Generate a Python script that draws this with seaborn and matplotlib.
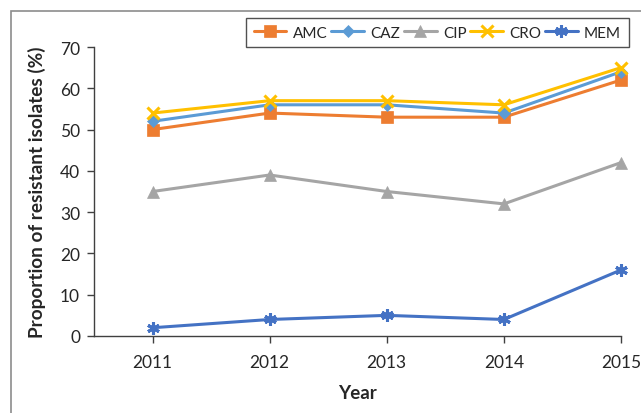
import matplotlib
matplotlib.use("Agg")
import matplotlib.pyplot as plt
import matplotlib.patches as mpatches
import seaborn as sns
import pandas as pd

# -------------------------
# Data
# -------------------------
years = [2011, 2012, 2013, 2014, 2015]
amc = [50, 54, 53, 53, 62]
caz = [52, 56, 56, 54, 64]
cip = [35, 39, 35, 32, 42]
cro = [54, 57, 57, 56, 65]
mem = [2, 4, 5, 4, 16]
drugs = ["AMC", "CAZ", "CIP", "CRO", "MEM"]
y_ticks = [0, 10, 20, 30, 40, 50, 60, 70]

colors = {"AMC": "#ED7D31", "CAZ": "#5B9BD5", "CIP": "#A5A5A5",
          "CRO": "#FFC000", "MEM": "#4472C4"}
markers = {"AMC": "s", "CAZ": "D", "CIP": "^", "CRO": "x", "MEM": (6, 2, 0)}
msizes = {"AMC": 8, "CAZ": 6, "CIP": 8, "CRO": 9, "MEM": 9}

df = pd.DataFrame({"year": years * 5,
                   "drug": [d for d in drugs for _ in years],
                   "value": amc + caz + cip + cro + mem})

# -------------------------
# Plot
# -------------------------
sns.set_style("white")
plt.rcParams["font.family"] = ["Lato", "DejaVu Sans"]
text_col = "#404040"

fig = plt.figure(figsize=(6.41, 4.14), dpi=100)
ax = fig.add_axes([94 / 641, 1 - 337 / 414, (621 - 94) / 641, (337 - 48) / 414])

for d in drugs:
    sub = df[df["drug"] == d]
    sns.lineplot(data=sub, x="year", y="value", ax=ax, color=colors[d],
                 marker=markers[d], markersize=msizes[d], linewidth=2.2,
                 label=d, clip_on=False)

for line in ax.get_lines():
    c = line.get_color()
    line.set_markeredgecolor(c)
    line.set_markerfacecolor(c)
    if line.get_label() in ("CRO", "MEM"):
        line.set_markeredgewidth(2.2)
    else:
        line.set_markeredgewidth(0.5)

ax.set_xlim(2010.5, 2015)
ax.set_ylim(0, 70)
ax.set_xticks(years)
ax.set_xticklabels([str(y) for y in years])
ax.set_yticks(y_ticks)

for s in ["top", "right"]:
    ax.spines[s].set_visible(False)
for s in ["left", "bottom"]:
    ax.spines[s].set_color(text_col)
    ax.spines[s].set_linewidth(1.0)

ax.tick_params(axis="both", direction="out", length=5, width=1.0,
               color=text_col, labelcolor="#262626", labelsize=12.5, pad=5)
ax.tick_params(axis="x", bottom=True, pad=8)
ax.tick_params(axis="y", left=True)

ax.set_xlabel("Year", fontsize=13.5, fontweight="bold", color="#262626", labelpad=10)
ax.set_ylabel("Proportion of resistant isolates (%)", fontsize=13.7,
              fontweight="bold", color="#262626", labelpad=10)

# legend across the top
handles, labels = ax.get_legend_handles_labels()
ax.get_legend().remove()
leg = fig.legend(handles, labels, loc="upper left", ncol=5,
                 bbox_to_anchor=(246 / 641, 1 - 19 / 414),
                 frameon=True, fancybox=False, fontsize=11,
                 handlelength=2.15, handletextpad=0.4, columnspacing=0.25,
                 borderpad=0.5, borderaxespad=0)
leg.get_frame().set_edgecolor("#262626")
leg.get_frame().set_linewidth(1.0)
for t in leg.get_texts():
    t.set_color("#262626")

# outer chart border
fig.patches.append(mpatches.Rectangle((11 / 641, -0.1), 1.2, (414 - 12) / 414 + 0.1,
                                      transform=fig.transFigure, fill=False,
                                      edgecolor="#8c8c8c", linewidth=1.2))

fig.savefig("out.png", dpi=100)
plt.close(fig)
